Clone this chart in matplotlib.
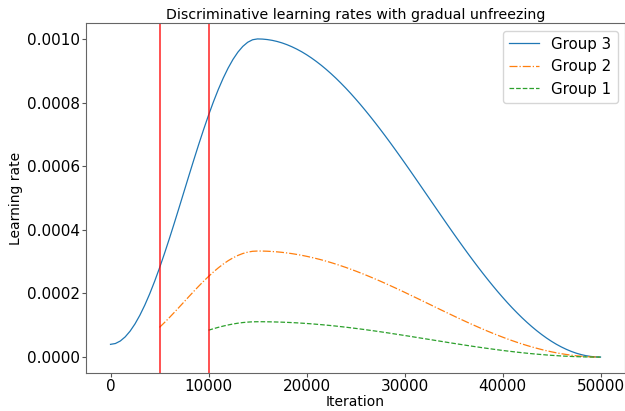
import numpy as np
import matplotlib
matplotlib.use("Agg")
import matplotlib.pyplot as plt

# learning rates, one value every 500 iterations
iters_g3 = np.arange(0, 50001, 500)
lr_g3 = [0.0000400, 0.0000426, 0.0000505, 0.0000635, 0.0000815, 0.0001043,
         0.0001317, 0.0001633, 0.0001988, 0.0002379, 0.0002800, 0.0003248,
         0.0003717, 0.0004202, 0.0004698, 0.0005200, 0.0005702, 0.0006198,
         0.0006683, 0.0007152, 0.0007600, 0.0008021, 0.0008412, 0.0008767,
         0.0009083, 0.0009357, 0.0009585, 0.0009765, 0.0009895, 0.0009974,
         0.0010000,
         0.0009995, 0.0009980, 0.0009955, 0.0009920, 0.0009875, 0.0009820,
         0.0009755, 0.0009681, 0.0009598, 0.0009505, 0.0009403, 0.0009292,
         0.0009173, 0.0009045, 0.0008909, 0.0008766, 0.0008614, 0.0008456,
         0.0008290, 0.0008117, 0.0007939, 0.0007754, 0.0007564, 0.0007369,
         0.0007169, 0.0006965, 0.0006757, 0.0006545, 0.0006330, 0.0006113,
         0.0005893, 0.0005671, 0.0005448, 0.0005224, 0.0005000, 0.0004776,
         0.0004552, 0.0004329, 0.0004107, 0.0003887, 0.0003670, 0.0003455,
         0.0003243, 0.0003035, 0.0002831, 0.0002631, 0.0002436, 0.0002246,
         0.0002061, 0.0001883, 0.0001710, 0.0001544, 0.0001386, 0.0001234,
         0.0001091, 0.0000955, 0.0000827, 0.0000708, 0.0000597, 0.0000495,
         0.0000402, 0.0000319, 0.0000245, 0.0000180, 0.0000125, 0.0000080,
         0.0000045, 0.0000020, 0.0000005, 0.0000000]

iters_g2 = np.arange(5000, 50001, 500)
lr_g2 = [0.0000933, 0.0001083, 0.0001239, 0.0001401, 0.0001566, 0.0001733,
         0.0001901, 0.0002066, 0.0002228, 0.0002384, 0.0002533, 0.0002674,
         0.0002804, 0.0002922, 0.0003028, 0.0003119, 0.0003195, 0.0003255,
         0.0003298, 0.0003325, 0.0003333,
         0.0003332, 0.0003327, 0.0003318, 0.0003307, 0.0003292, 0.0003273,
         0.0003252, 0.0003227, 0.0003199, 0.0003168, 0.0003134, 0.0003097,
         0.0003058, 0.0003015, 0.0002970, 0.0002922, 0.0002871, 0.0002819,
         0.0002763, 0.0002706, 0.0002646, 0.0002585, 0.0002521, 0.0002456,
         0.0002390, 0.0002322, 0.0002252, 0.0002182, 0.0002110, 0.0002038,
         0.0001964, 0.0001890, 0.0001816, 0.0001741, 0.0001667, 0.0001592,
         0.0001517, 0.0001443, 0.0001369, 0.0001296, 0.0001223, 0.0001152,
         0.0001081, 0.0001012, 0.0000944, 0.0000877, 0.0000812, 0.0000749,
         0.0000687, 0.0000628, 0.0000570, 0.0000515, 0.0000462, 0.0000411,
         0.0000364, 0.0000318, 0.0000276, 0.0000236, 0.0000199, 0.0000165,
         0.0000134, 0.0000106, 0.0000082, 0.0000060, 0.0000042, 0.0000027,
         0.0000015, 0.0000007, 0.0000002, 0.0000000]

iters_g1 = np.arange(10000, 50001, 500)
lr_g1 = [0.0000844, 0.0000891, 0.0000935, 0.0000974, 0.0001009, 0.0001040,
         0.0001065, 0.0001085, 0.0001099, 0.0001108, 0.0001111,
         0.0001111, 0.0001109, 0.0001106, 0.0001102, 0.0001097, 0.0001091,
         0.0001084, 0.0001076, 0.0001066, 0.0001056, 0.0001045, 0.0001032,
         0.0001019, 0.0001005, 0.0000990, 0.0000974, 0.0000957, 0.0000940,
         0.0000921, 0.0000902, 0.0000882, 0.0000862, 0.0000840, 0.0000819,
         0.0000797, 0.0000774, 0.0000751, 0.0000727, 0.0000703, 0.0000679,
         0.0000655, 0.0000630, 0.0000605, 0.0000580, 0.0000556, 0.0000531,
         0.0000506, 0.0000481, 0.0000456, 0.0000432, 0.0000408, 0.0000384,
         0.0000360, 0.0000337, 0.0000315, 0.0000292, 0.0000271, 0.0000250,
         0.0000229, 0.0000209, 0.0000190, 0.0000172, 0.0000154, 0.0000137,
         0.0000121, 0.0000106, 0.0000092, 0.0000079, 0.0000066, 0.0000055,
         0.0000045, 0.0000035, 0.0000027, 0.0000020, 0.0000014, 0.0000009,
         0.0000005, 0.0000002, 0.0000001, 0.0000000]

unfreeze_at = [5000, 10000]

fig = plt.figure(figsize=(6.25, 4.11), dpi=100)
ax = fig.add_axes([0.1376, 0.0925, 0.8624, 0.8515])

ax.plot(iters_g3, lr_g3, color="#1f77b4", lw=0.9, label="Group 3")
ax.plot(iters_g2, lr_g2, color="#ff7f0e", lw=0.9, ls="-.", label="Group 2")
ax.plot(iters_g1, lr_g1, color="#2ca02c", lw=0.9, ls="--", label="Group 1")
for x in unfreeze_at:
    ax.axvline(x, color="red", lw=1.2, alpha=0.8)

ax.set_title("Discriminative learning rates with gradual unfreezing", fontsize=10.2, pad=3)
ax.set_xlabel("Iteration", fontsize=10, labelpad=1)
ax.set_ylabel("Learning rate", fontsize=10, labelpad=3)
ax.tick_params(labelsize=11, color="#555555", length=3, pad=1)
for s in ax.spines.values():
    s.set_color("#666666")
ax.legend(loc="upper right", fontsize=10.8)

fig.savefig("out.png", dpi=100)
